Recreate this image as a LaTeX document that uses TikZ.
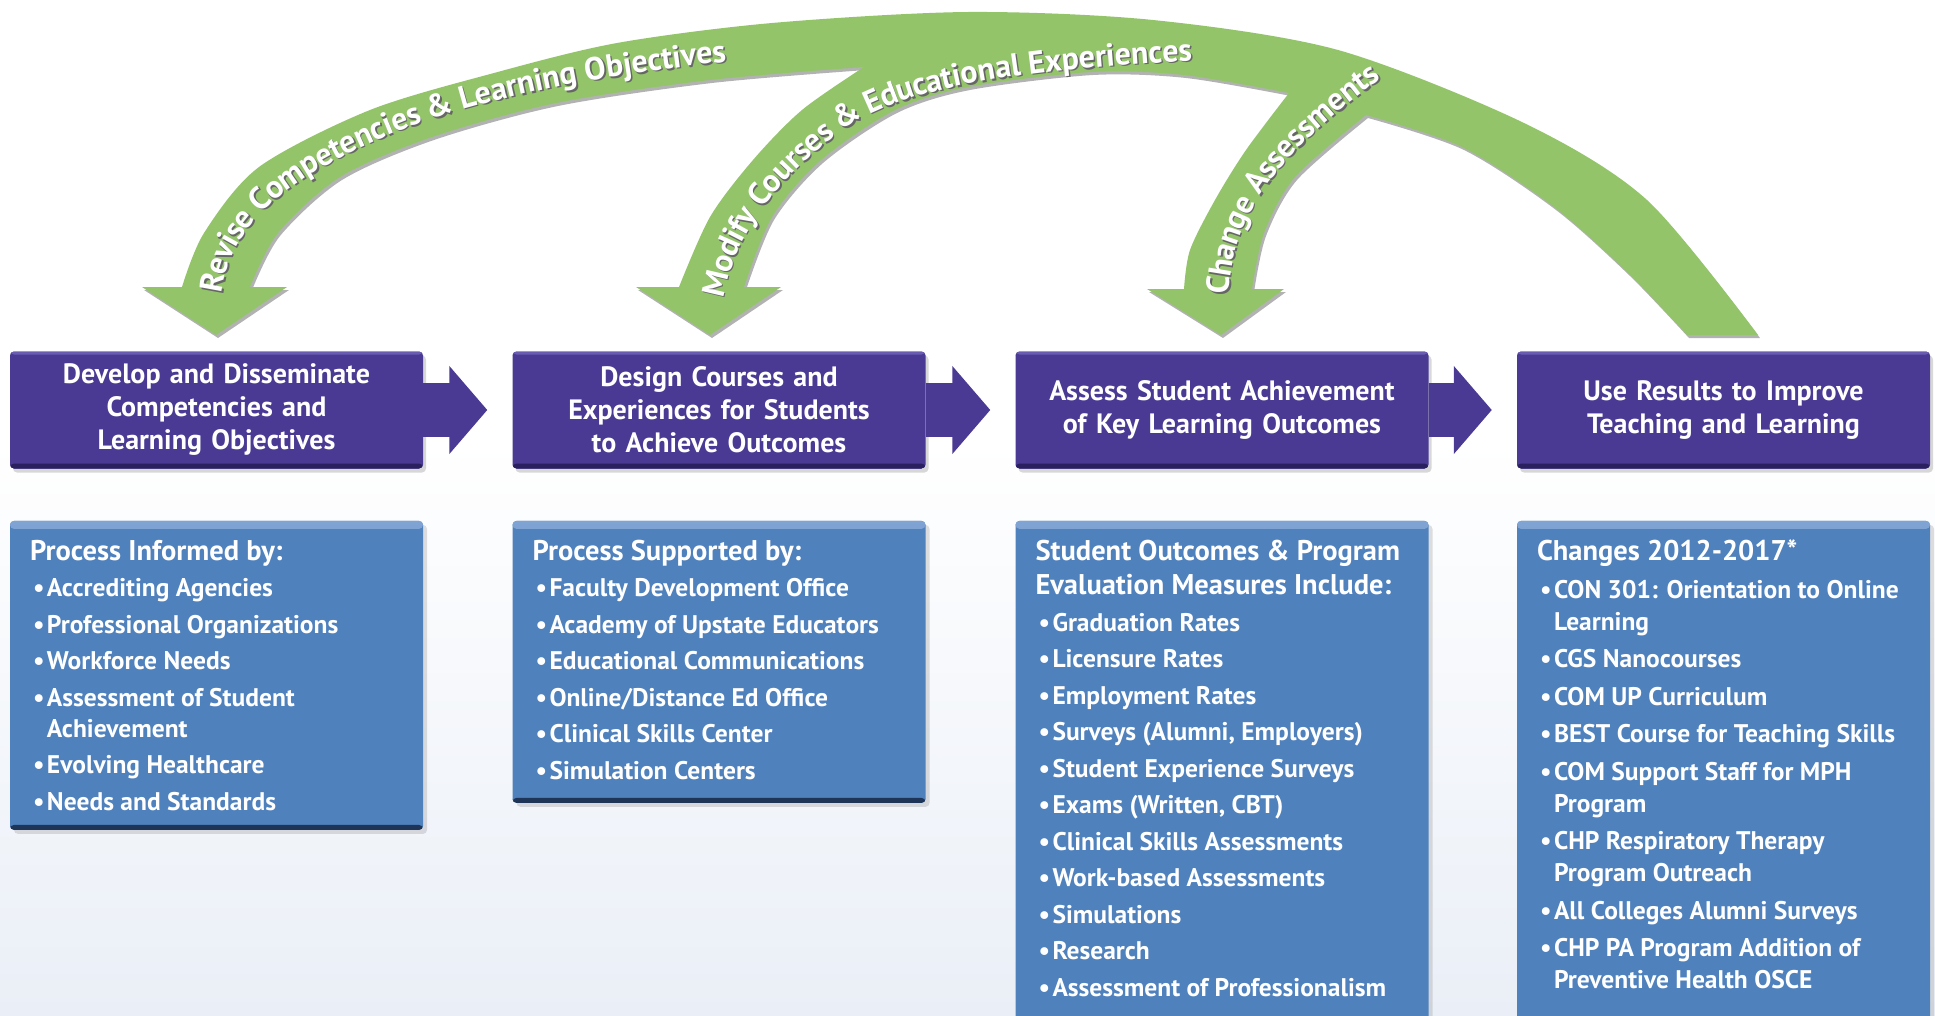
\documentclass[tikz,border=0pt]{standalone}
\usepackage{fontspec}
\setmainfont{PT Sans}
\usetikzlibrary{positioning,arrows.meta,shadows,decorations.text}

\definecolor{stagepurple}{HTML}{4A3A93}
\definecolor{stagedark}{HTML}{2A2060}
\definecolor{stagelight}{HTML}{6A5CB0}
\definecolor{boxblue}{HTML}{4F81BD}
\definecolor{boxtop}{HTML}{7FA3D3}
\definecolor{boxnavy}{HTML}{1E3557}
\definecolor{loopgreen}{HTML}{93C46A}
\definecolor{bgblue}{HTML}{EAEFF7}

% bullet line with hanging indent
\newcommand{\itm}[1]{\par\hangindent=17pt\hangafter=1\noindent\hbox to 17pt{\kern3pt\textbullet\hss}#1}
\newcommand{\boxhead}[1]{{\fontsize{28.5}{34.5}\selectfont #1\par}}
\newcommand{\boxtext}[3][31]{\parbox[t][#2][t]{373pt}{\raggedright\setlength{\parskip}{5.5pt}\fontsize{25.5}{#1}\selectfont #3}}

% the green feedback band, three heads
\newcommand{\looppath}{(216,-335) -- (142,-287) -- (182,-287)
  -- plot[smooth] coordinates {(182,-287) (204,-233) (259,-167) (370,-110) (494,-73) (617,-43) (772,-23) (968,-12) (1153,-20) (1338,-50) (1524,-123) (1647,-200) (1758,-335)}
  -- (1687,-335)
  -- plot[smooth] coordinates {(1687,-335) (1628,-273) (1554,-207) (1462,-147) (1366,-115)}
  -- plot[smooth] coordinates {(1366,-115) (1295,-177) (1264,-233) (1252,-289)}
  -- (1284,-289) -- (1221,-335) -- (1147,-289) -- (1184,-289)
  -- plot[smooth] coordinates {(1184,-289) (1190,-250) (1215,-200) (1246,-150) (1289,-93)}
  -- plot[smooth] coordinates {(1289,-93) (1184,-75) (1091,-72) (968,-87) (895,-110) (821,-160) (772,-217) (744,-287)}
  -- (781,-287) -- (710,-335) -- (636,-287) -- (679,-287)
  -- plot[smooth] coordinates {(679,-287) (710,-217) (753,-160) (802,-110) (864,-67)}
  -- plot[smooth] coordinates {(864,-67) (710,-80) (556,-103) (432,-137) (340,-177) (278,-233) (250,-287)}
  -- (287,-287) -- cycle}

% centre lines of the three labels
\newcommand{\revisepath}{(212,-292) .. controls (220,-225) and (270,-175) .. (380,-128) .. controls (480,-85) and (620,-60) .. (820,-42)}
\newcommand{\modifypath}{(714,-296) .. controls (725,-230) and (770,-170) .. (840,-120) .. controls (910,-72) and (1050,-55) .. (1260,-48)}
\newcommand{\changepath}{(1219,-294) .. controls (1222,-215) and (1262,-150) .. (1390,-60)}

\begin{document}
\begin{tikzpicture}[x=1pt,y=1pt,
  stage/.style={fill=stagepurple, text=white, rounded corners=4pt,
    minimum width=413pt, minimum height=117pt, text width=400pt, align=center,
    inner sep=0pt, font=\bfseries\fontsize{28}{33}\selectfont,
    drop shadow={shadow xshift=3pt,shadow yshift=-4pt,opacity=0.3},
    path picture={
      \fill[stagelight] (path picture bounding box.north west) rectangle ([yshift=-3pt]path picture bounding box.north east);
      \fill[stagedark] (path picture bounding box.south west) rectangle ([yshift=5pt]path picture bounding box.south east);}},
  infobox/.style={fill=boxblue, text=white, rounded corners=4pt,
    minimum width=413pt, inner xsep=20pt, inner ysep=19pt, font=\bfseries,
    drop shadow={shadow xshift=4pt,shadow yshift=-4pt,opacity=0.25},
    path picture={
      \shade[top color=boxtop, bottom color=boxblue] (path picture bounding box.north west) rectangle ([yshift=-8pt]path picture bounding box.north east);
      \fill[boxnavy] (path picture bounding box.south west) rectangle ([yshift=5pt]path picture bounding box.south east);}},
  flow/.style={draw=stagepurple, line width=54pt, -{Triangle[length=38pt,width=86pt]}},
  arclabel/.style 2 args={decorate, decoration={text along path, raise=-2.5pt,
    text={|\bfseries\fontsize{8}{8}\selectfont\color{#1}|#2}}}
]
\useasboundingbox (0,0) rectangle (1935,-1015);
\fill[white] (0,0) rectangle (1935,-1015);
\shade[top color=white, bottom color=bgblue] (0,-440) rectangle (1935,-1015);

% feedback loop
\fill[black, opacity=0.3, shift={(2,-3)}] \looppath;
\fill[loopgreen] \looppath;

% labels on the loop, set small and scaled up
\begin{scope}[x=0.25pt,y=0.25pt,transform canvas={scale=4}]
\path[arclabel={black!60}{Revise Competencies {\&} Learning Objectives}, shift={(1.5,-1.5)}] \revisepath;
\path[arclabel={white}{Revise Competencies {\&} Learning Objectives}] \revisepath;
\path[arclabel={black!60}{Modify Courses {\&} Educational Experiences}, shift={(1.5,-1.5)}] \modifypath;
\path[arclabel={white}{Modify Courses {\&} Educational Experiences}] \modifypath;
\path[arclabel={black!60}{Change Assessments}, shift={(1.5,-1.5)}] \changepath;
\path[arclabel={white}{Change Assessments}] \changepath;
\end{scope}

% stages
\node[stage] (develop) at (216.5,-410) {Develop and Disseminate\\Competencies and\\Learning Objectives};
\node[stage] (design) at (719,-410) {Design Courses and\\Experiences for Students\\to Achieve Outcomes};
\node[stage] (assess) at (1222,-410) {Assess Student Achievement\\of Key Learning Outcomes};
\node[stage] (use) at (1723.5,-410) {Use Results to Improve\\Teaching and Learning};

\draw[flow] (develop.east) -- ([xshift=-25pt]design.west);
\draw[flow] (design.east) -- ([xshift=-25pt]assess.west);
\draw[flow] (assess.east) -- ([xshift=-25pt]use.west);

% details under each stage
\node[infobox, below=52pt of develop] (informed) {\boxtext{271pt}{%
  \boxhead{Process Informed by:}
  \itm{Accrediting Agencies}
  \itm{Professional Organizations}
  \itm{Workforce Needs}
  \itm{Assessment of Student\newline Achievement}
  \itm{Evolving Healthcare}
  \itm{Needs and Standards}}};
\node[infobox, below=52pt of design] (supported) {\boxtext{244pt}{%
  \boxhead{Process Supported by:}
  \itm{Faculty Development Office}
  \itm{Academy of Upstate Educators}
  \itm{Educational Communications}
  \itm{Online/Distance Ed Office}
  \itm{Clinical Skills Center}
  \itm{Simulation Centers}}};
\node[infobox, below=52pt of assess] (measures) {\boxtext{467pt}{%
  \boxhead{Student Outcomes \& Program\\Evaluation Measures Include:}
  \itm{Graduation Rates}
  \itm{Licensure Rates}
  \itm{Employment Rates}
  \itm{Surveys (Alumni, Employers)}
  \itm{Student Experience Surveys}
  \itm{Exams (Written, CBT)}
  \itm{Clinical Skills Assessments}
  \itm{Work-based Assessments}
  \itm{Simulations}
  \itm{Research}
  \itm{Assessment of Professionalism}}};
\node[infobox, below=52pt of use] (changes) {\boxtext[32]{467pt}{%
  \boxhead{Changes 2012-2017*}
  \itm{CON 301: Orientation to Online\newline Learning}
  \itm{CGS Nanocourses}
  \itm{COM UP Curriculum}
  \itm{BEST Course for Teaching Skills}
  \itm{COM Support Staff for MPH\newline Program}
  \itm{CHP Respiratory Therapy\newline Program Outreach}
  \itm{All Colleges Alumni Surveys}
  \itm{CHP PA Program Addition of\newline Preventive Health OSCE}}};
\end{tikzpicture}
\end{document}
